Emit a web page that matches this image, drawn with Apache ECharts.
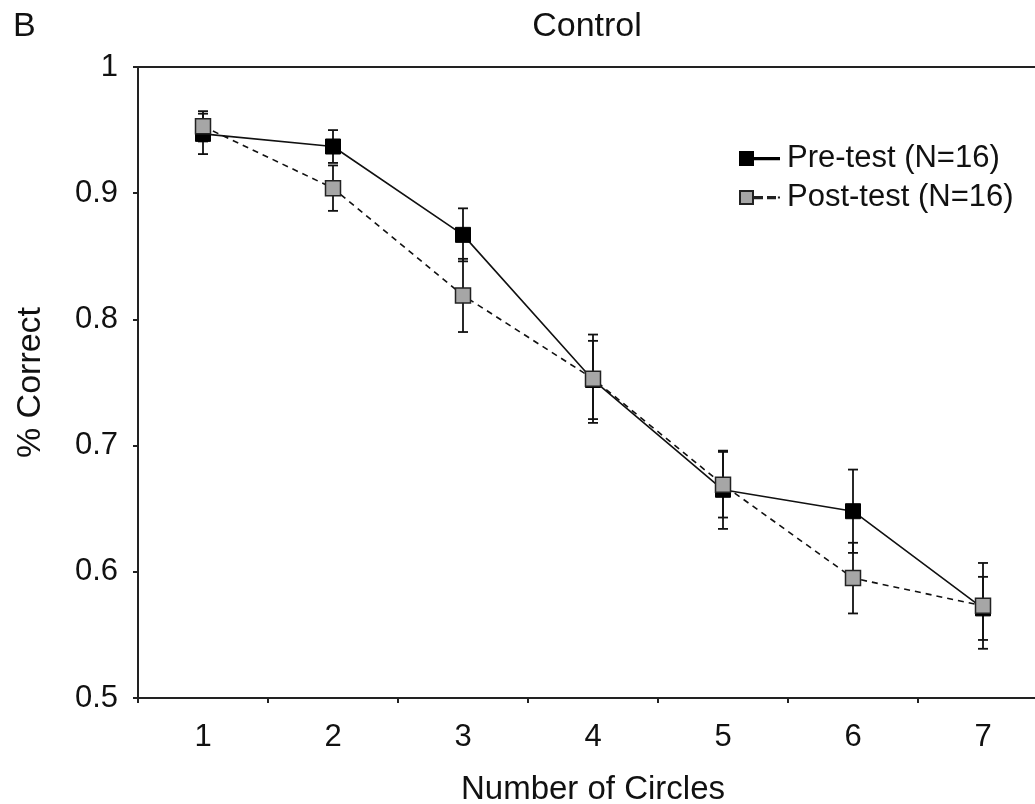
<!DOCTYPE html>
<html>
<head>
<meta charset="utf-8">
<script src="https://cdn.jsdelivr.net/npm/echarts@6/dist/echarts.min.js"></script>
<style>
html,body{margin:0;padding:0;background:#fff;}
#chart{width:1035px;height:804px;}
</style>
</head>
<body>
<div id="chart"></div>
<script>
var categories = ['1', '2', '3', '4', '5', '6', '7'];
var preMean  = [0.947, 0.937, 0.867, 0.752, 0.665, 0.648, 0.571];
var preErr   = [0.016, 0.013, 0.021, 0.031, 0.031, 0.033, 0.025];
var postMean = [0.953, 0.904, 0.819, 0.753, 0.669, 0.595, 0.573];
var postErr  = [0.012, 0.018, 0.029, 0.035, 0.026, 0.028, 0.034];
var yTicks = { min: 0.5, max: 1, interval: 0.1 };

var FONT = '"Liberation Sans", Arial, sans-serif';
var chart = echarts.init(document.getElementById('chart'), null, { renderer: 'canvas' });

function errData(mean, err) {
  return mean.map(function (m, i) { return [i, m - err[i], m + err[i]]; });
}
function errRender(params, api) {
  var x = api.value(0);
  var lo = api.coord([x, api.value(1)]);
  var hi = api.coord([x, api.value(2)]);
  var w = 5;
  var st = { stroke: '#111', lineWidth: 1.8 };
  return {
    type: 'group',
    children: [
      { type: 'line', shape: { x1: hi[0], y1: hi[1], x2: lo[0], y2: lo[1] }, style: st },
      { type: 'line', shape: { x1: hi[0] - w, y1: hi[1], x2: hi[0] + w, y2: hi[1] }, style: st },
      { type: 'line', shape: { x1: lo[0] - w, y1: lo[1], x2: lo[0] + w, y2: lo[1] }, style: st }
    ]
  };
}

var option = {
  backgroundColor: '#fff',
  animation: false,
  title: [
    { text: 'B', left: 8, top: 5, textStyle: { fontFamily: FONT, fontWeight: 'normal', fontSize: 34, color: '#111' } },
    { text: 'Control', left: 582, top: 5, textAlign: 'center', textStyle: { fontFamily: FONT, fontWeight: 'normal', fontSize: 34, color: '#111' } }
  ],
  legend: {
    orient: 'vertical',
    left: 739,
    top: 143,
    padding: 0,
    itemWidth: 39,
    itemHeight: 13,
    itemGap: 8,
    textStyle: { fontFamily: FONT, fontSize: 31, color: '#111', padding: [0, 0, 0, 3] },
    data: [
      { name: 'Pre-test (N=16)', icon: 'path://M0,0 H13 V13 H0 Z M13,6 H39 V7.2 H13 Z' },
      { name: 'Post-test (N=16)', icon: 'path://M0,0 H13 V13 H0 Z M15,6 H22 V7.2 H15 Z M28,6 H35 V7.2 H28 Z M38.9,6.5 H39 V6.6 H38.9 Z' }
    ]
  },
  grid: { left: 138, top: 67, width: 910, height: 631, containLabel: false, outerBoundsMode: 'none' },
  xAxis: [
    {
      type: 'category',
      data: categories,
      boundaryGap: true,
      name: 'Number of Circles',
      nameLocation: 'middle',
      nameGap: 75,
      nameTextStyle: { fontFamily: FONT, fontSize: 33, color: '#111' },
      axisLine: { lineStyle: { color: '#222', width: 2 } },
      axisTick: { show: true, alignWithLabel: false, interval: 0, length: 5, lineStyle: { color: '#222', width: 2 } },
      axisLabel: { fontFamily: FONT, fontSize: 31, color: '#111', margin: 24 },
      splitLine: { show: false }
    },
    {
      type: 'category',
      data: categories,
      position: 'top',
      axisLine: { lineStyle: { color: '#222', width: 2 } },
      axisTick: { show: false },
      axisLabel: { show: false },
      splitLine: { show: false }
    }
  ],
  yAxis: {
    type: 'value',
    min: yTicks.min,
    max: yTicks.max,
    interval: yTicks.interval,
    name: '% Correct',
    nameLocation: 'middle',
    nameGap: 90,
    nameRotate: 90,
    nameTextStyle: { fontFamily: FONT, fontSize: 34, color: '#111' },
    axisLine: { show: true, lineStyle: { color: '#222', width: 2 } },
    axisTick: { show: true, length: 5, lineStyle: { color: '#222', width: 2 } },
    axisLabel: { fontFamily: FONT, fontSize: 31, color: '#111', margin: 20 },
    splitLine: { show: false }
  },
  series: [
    {
      type: 'custom', name: 'preErr', z: 1,
      renderItem: errRender, data: errData(preMean, preErr), silent: true
    },
    {
      type: 'custom', name: 'postErr', z: 1,
      renderItem: errRender, data: errData(postMean, postErr), silent: true
    },
    {
      type: 'line', name: 'Pre-test (N=16)', z: 2,
      data: preMean,
      symbol: 'rect', symbolSize: 15,
      lineStyle: { color: '#111', width: 1.6, type: 'solid' },
      itemStyle: { color: '#000', borderColor: '#000', borderWidth: 1 }
    },
    {
      type: 'line', name: 'Post-test (N=16)', z: 3,
      data: postMean,
      symbol: 'rect', symbolSize: 15,
      lineStyle: { color: '#111', width: 1.6, type: [6, 5] },
      itemStyle: { color: '#a6a6a6', borderColor: '#222', borderWidth: 1.5 }
    }
  ]
};
chart.setOption(option);
</script>
</body>
</html>
